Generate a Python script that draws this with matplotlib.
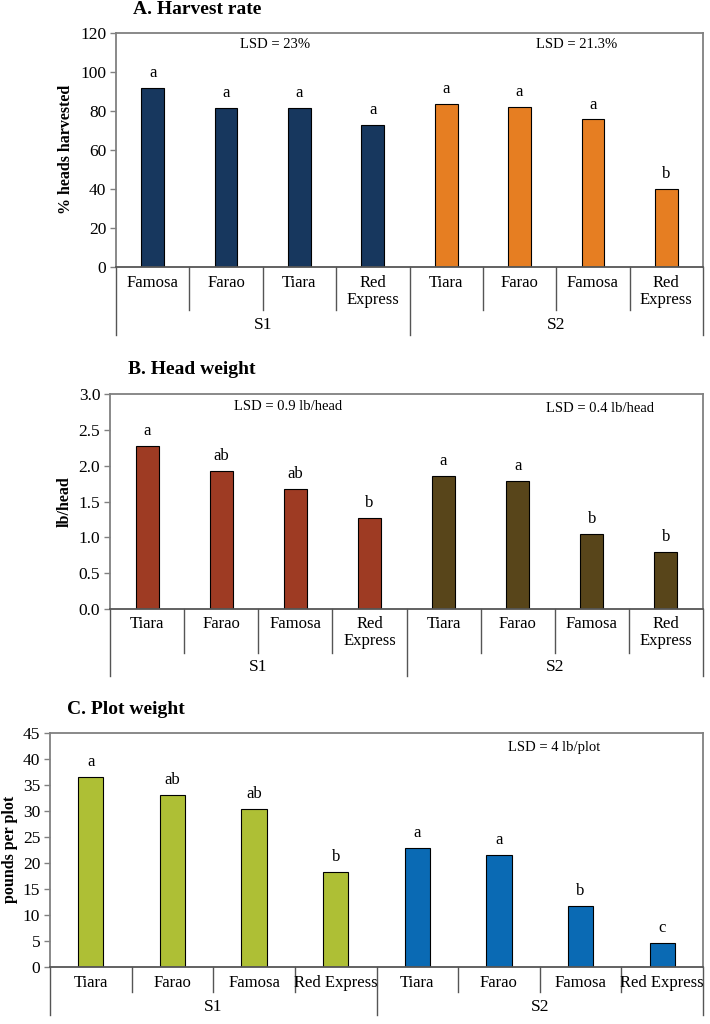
import matplotlib.pyplot as plt
from matplotlib.transforms import blended_transform_factory

W, H = 710, 1024

groups = ["S1", "S2"]

# A. Harvest rate
harvest_cultivars = ["Famosa", "Farao", "Tiara", "Red\nExpress", "Tiara", "Farao", "Famosa", "Red\nExpress"]
harvest_pct = [91.5, 81.5, 81.5, 72.5, 83.5, 82.0, 75.5, 40.0]
harvest_letters = ["a", "a", "a", "a", "a", "a", "a", "b"]
harvest_lsd = ["LSD = 23%", "LSD = 21.3%"]

# B. Head weight
head_cultivars = ["Tiara", "Farao", "Famosa", "Red\nExpress", "Tiara", "Farao", "Famosa", "Red\nExpress"]
head_lb = [2.28, 1.93, 1.67, 1.27, 1.85, 1.78, 1.05, 0.79]
head_letters = ["a", "ab", "ab", "b", "a", "a", "b", "b"]
head_lsd = ["LSD = 0.9 lb/head", "LSD = 0.4 lb/head"]

# C. Plot weight
plot_cultivars = ["Tiara", "Farao", "Famosa", "Red Express", "Tiara", "Farao", "Famosa", "Red Express"]
plot_lb = [36.5, 33.0, 30.3, 18.2, 22.8, 21.5, 11.6, 4.5]
plot_letters = ["a", "ab", "ab", "b", "a", "a", "b", "c"]
plot_lsd = ["LSD = 4 lb/plot"]

SERIF = "Liberation Serif"

fig = plt.figure(figsize=(W / 100, H / 100), dpi=100)


def fx(px):
    return px / W


def fy(py):
    return 1 - py / H


def panel(box, title, title_xy, ylabel, ylabel_x, cultivars, values, letters,
          colors, ylim, yticks, yfmt, lsd, lsd_xy, rows):
    left, top, right, bottom = box
    ax = fig.add_axes([fx(left), fy(bottom), fx(right - left), (bottom - top) / H])
    x = list(range(len(values)))
    cols = [colors[0]] * 4 + [colors[1]] * 4
    ax.bar(x, values, width=0.31, color=cols, edgecolor="black", linewidth=0.8, zorder=2)
    ax.set_xlim(-0.5, len(values) - 0.5)
    ax.set_ylim(*ylim)
    ax.set_yticks(yticks)
    ax.set_yticklabels([yfmt.format(v) for v in yticks], fontfamily=SERIF, fontsize=12.5)
    ax.set_xticks([])
    ax.tick_params(axis="y", direction="out", length=4, width=1, color="#808080", pad=3)
    for s in ax.spines.values():
        s.set_color("#808080")
        s.set_linewidth(1.3)
    ax.spines["bottom"].set_color("#555555")

    for xi, v, t in zip(x, values, letters):
        ax.annotate(t, (xi, v), xytext=(0, 5), textcoords="offset points",
                    ha="center", va="bottom", fontfamily=SERIF, fontsize=12)

    # category / group labels under the axis
    tr = blended_transform_factory(ax.transData, fig.transFigure)
    cat_top, inner_bottom, group_y, group_bottom = rows
    for xi, name in zip(x, cultivars):
        ax.text(xi, fy(cat_top), name, transform=tr, ha="center", va="top",
                fontfamily=SERIF, fontsize=12, linespacing=1.05)
    for b in [0.5, 1.5, 2.5, 4.5, 5.5, 6.5]:
        ax.plot([b, b], [fy(bottom), fy(inner_bottom)], transform=tr, color="#555555",
                lw=1, clip_on=False)
    for b in [-0.5, 3.5, 7.5]:
        ax.plot([b, b], [fy(bottom), fy(group_bottom)], transform=tr, color="#555555",
                lw=1, clip_on=False)
    for gi, g in enumerate(groups):
        ax.text(1.5 + 4 * gi, fy(group_y), g, transform=tr, ha="center", va="center",
                fontfamily=SERIF, fontsize=12.5)

    fig.text(fx(title_xy[0]), fy(title_xy[1]), title, ha="left", va="center",
             fontfamily=SERIF, fontweight="bold", fontsize=14)
    fig.text(fx(ylabel_x), fy((top + bottom) / 2), ylabel, rotation=90, ha="center",
             va="center", fontfamily=SERIF, fontweight="bold", fontsize=11.5)
    for txt, (lx, ly) in zip(lsd, lsd_xy):
        fig.text(fx(lx), fy(ly), txt, ha="center", va="center", fontfamily=SERIF,
                 fontsize=10.5)
    return ax


panel((116, 32.7, 703, 266.7), "A. Harvest rate", (133, 10), "% heads harvested", 66,
      harvest_cultivars, harvest_pct, harvest_letters, ["#17375E", "#E67E22"],
      (0, 120), list(range(0, 121, 20)), "{:.0f}", harvest_lsd,
      [(275, 45), (577, 45)], (275, 310, 325, 335))

panel((110, 394, 703, 609), "B. Head weight", (128, 370), "lb/head", 65,
      head_cultivars, head_lb, head_letters, ["#9E3B23", "#58451A"],
      (0, 3.0), [0, 0.5, 1.0, 1.5, 2.0, 2.5, 3.0], "{:.1f}", head_lsd,
      [(288, 407), (600, 409)], (616, 653, 667, 676))

panel((50, 732.7, 703, 966.7), "C. Plot weight", (67, 709), "pounds per plot", 10,
      plot_cultivars, plot_lb, plot_letters, ["#AEBF35", "#0A6AB4"],
      (0, 45), list(range(0, 46, 5)), "{:.0f}", plot_lsd,
      [(554, 747)], (975, 992, 1007, 1015))

fig.savefig("out.png", dpi=100)
